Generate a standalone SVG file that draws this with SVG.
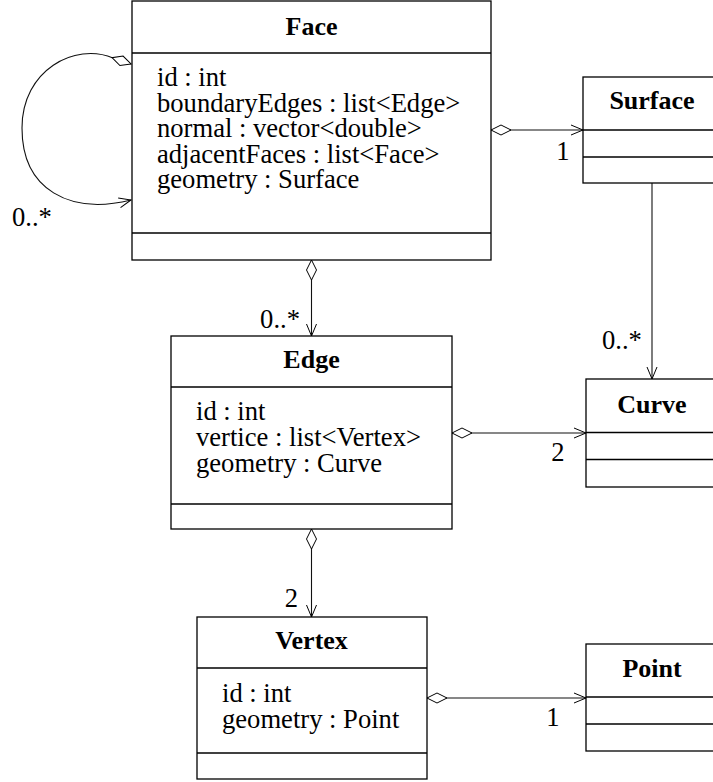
<svg xmlns="http://www.w3.org/2000/svg" width="713" height="782" viewBox="0 0 713 782">
  <style>
    .box { fill: #fff; stroke: #000; stroke-width: 1.3; }
    .sep { stroke: #000; stroke-width: 1.3; }
    .title { font-family: "Liberation Serif", "Times New Roman", serif; font-size: 26px; font-weight: bold; text-anchor: middle; fill: #000; }
    .attr { font-family: "Liberation Serif", "Times New Roman", serif; font-size: 26.6px; fill: #000; }
    .mult { font-family: "Liberation Serif", "Times New Roman", serif; font-size: 26.6px; fill: #000; }
    .link { fill: none; stroke: #111; stroke-width: 1.1; marker-end: url(#arrow); }
    .agg { marker-start: url(#diamond); }
  </style>
  <defs>
    <marker id="diamond" markerUnits="userSpaceOnUse" viewBox="0 0 22 12" markerWidth="22" markerHeight="12" refX="0" refY="6" orient="auto" overflow="visible">
      <path d="M0,6 L10,1 L20,6 L10,11 Z" fill="#fff" stroke="#000" stroke-width="1"/>
    </marker>
    <marker id="arrow" markerUnits="userSpaceOnUse" viewBox="0 0 14 12" markerWidth="14" markerHeight="12" refX="12" refY="6" orient="auto" overflow="visible">
      <path d="M0,1 L12,6 L0,11" fill="none" stroke="#000" stroke-width="1"/>
    </marker>
  </defs>

  <!-- associations -->
  <g id="connectors">
    <path class="link agg" d="M131,64 L113,58 C75,42 22,70 22,128 C22,190 70,215 131,200"/>
    <path class="link agg" d="M491,130 L583,130"/>
    <path class="link agg" d="M311.5,260 L311.5,336"/>
    <path class="link" d="M652,183 L652,379"/>
    <path class="link agg" d="M452,433 L586,433"/>
    <path class="link agg" d="M311.5,529 L311.5,617"/>
    <path class="link agg" d="M427,698 L586,698"/>
    <text class="mult" x="12" y="226">0..*</text>
    <text class="mult" x="563" y="160" text-anchor="middle">1</text>
    <text class="mult" x="300" y="328" text-anchor="end">0..*</text>
    <text class="mult" x="602" y="349">0..*</text>
    <text class="mult" x="558" y="461" text-anchor="middle">2</text>
    <text class="mult" x="298" y="607" text-anchor="end">2</text>
    <text class="mult" x="553" y="726" text-anchor="middle">1</text>
  </g>

  <g id="face">
    <rect class="box" x="132" y="1" width="359" height="259"/>
    <line class="sep" x1="132" y1="53" x2="491" y2="53"/>
    <line class="sep" x1="132" y1="233" x2="491" y2="233"/>
    <text class="title" x="311.5" y="35">Face</text>
    <text class="attr" x="157" y="86">id : int</text>
    <text class="attr" x="157" y="111.5">boundaryEdges : list&lt;Edge&gt;</text>
    <text class="attr" x="157" y="137">normal : vector&lt;double&gt;</text>
    <text class="attr" x="157" y="162.5">adjacentFaces : list&lt;Face&gt;</text>
    <text class="attr" x="157" y="188">geometry : Surface</text>
  </g>

  <g id="surface">
    <rect class="box" x="583" y="77" width="140" height="106"/>
    <line class="sep" x1="583" y1="130" x2="723" y2="130"/>
    <line class="sep" x1="583" y1="157" x2="723" y2="157"/>
    <text class="title" x="652" y="109">Surface</text>
  </g>

  <g id="edge">
    <rect class="box" x="171" y="336" width="281" height="193"/>
    <line class="sep" x1="171" y1="387" x2="452" y2="387"/>
    <line class="sep" x1="171" y1="504" x2="452" y2="504"/>
    <text class="title" x="311.5" y="368">Edge</text>
    <text class="attr" x="196" y="420">id : int</text>
    <text class="attr" x="196" y="446">vertice : list&lt;Vertex&gt;</text>
    <text class="attr" x="196" y="472">geometry : Curve</text>
  </g>

  <g id="curve">
    <rect class="box" x="586" y="379" width="135" height="108"/>
    <line class="sep" x1="586" y1="432.5" x2="721" y2="432.5"/>
    <line class="sep" x1="586" y1="459.5" x2="721" y2="459.5"/>
    <text class="title" x="652" y="413">Curve</text>
  </g>

  <g id="vertex">
    <rect class="box" x="197" y="617" width="230" height="162"/>
    <line class="sep" x1="197" y1="668" x2="427" y2="668"/>
    <line class="sep" x1="197" y1="753" x2="427" y2="753"/>
    <text class="title" x="311.5" y="649">Vertex</text>
    <text class="attr" x="222" y="702">id : int</text>
    <text class="attr" x="222" y="728">geometry : Point</text>
  </g>

  <g id="point">
    <rect class="box" x="586" y="644" width="135" height="107"/>
    <line class="sep" x1="586" y1="697" x2="721" y2="697"/>
    <line class="sep" x1="586" y1="724" x2="721" y2="724"/>
    <text class="title" x="652" y="677">Point</text>
  </g>
</svg>
